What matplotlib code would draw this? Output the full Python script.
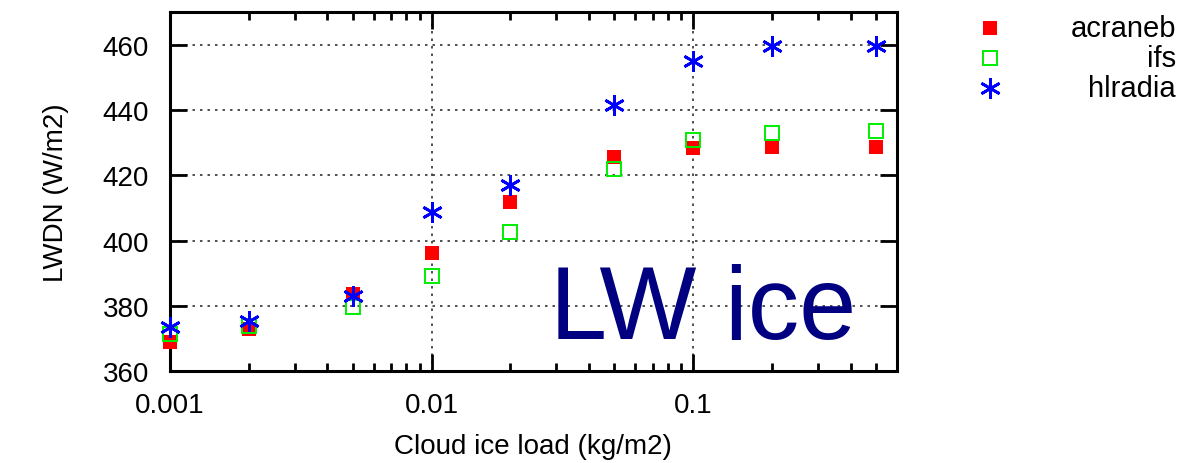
import matplotlib
matplotlib.use("Agg")
import matplotlib.pyplot as plt
from matplotlib.lines import Line2D
from matplotlib.ticker import LogLocator, NullFormatter, FixedLocator, FixedFormatter

plt.rcParams['font.family'] = ['Liberation Sans', 'DejaVu Sans']

# cloud ice load (kg/m2)
ice_load = [0.001, 0.002, 0.005, 0.01, 0.02, 0.05, 0.1, 0.2, 0.5]

# LWDN (W/m2) per scheme
acraneb = [368.9, 372.9, 383.6, 396.2, 411.7, 425.7, 428.3, 428.6, 428.8]
ifs = [371.3, 373.9, 379.5, 389.2, 402.5, 422.0, 430.9, 432.9, 433.7]
hlradia = [373.5, 375.4, 383.1, 408.7, 417.1, 441.4, 455.0, 459.6, 459.6]

series_names = ['acraneb', 'ifs', 'hlradia']
x_ticks = [0.001, 0.01, 0.1]
x_ticklabels = ['0.001', '0.01', '0.1']
y_ticks = [360, 380, 400, 420, 440, 460]

fig = plt.figure(figsize=(11.83, 4.64), dpi=100)
ax = fig.add_axes([0.1437, 0.198, 0.6143, 0.774])

style = [
    dict(marker='s', ms=10, mfc='#ff0000', mec='#ff0000', mew=0),
    dict(marker='s', ms=10, mfc='none', mec='#00ee00', mew=1.4),
    dict(marker=(6, 2, 0), ms=15, mfc='#0000ff', mec='#0000ff', mew=2.0),
]

for vals, st in zip([acraneb, ifs, hlradia], style):
    ax.plot(ice_load, vals, linestyle='none', clip_on=False, zorder=3, **st)

ax.set_xscale('log')
ax.set_xlim(0.001, 0.6)
ax.set_ylim(360, 470)
ax.xaxis.set_major_locator(FixedLocator(x_ticks))
ax.xaxis.set_major_formatter(FixedFormatter(x_ticklabels))
ax.xaxis.set_minor_locator(LogLocator(base=10, subs=range(2, 10)))
ax.xaxis.set_minor_formatter(NullFormatter())
ax.set_yticks(y_ticks)

ax.grid(True, which='major', linestyle=(0, (1.5, 3)), color='#333333', linewidth=1.2)
ax.tick_params(which='major', direction='in', length=12, width=2, top=True, right=True,
               labelsize=20)
ax.tick_params(axis='y', which='major', pad=15)
ax.tick_params(axis='x', which='major', pad=15)
ax.tick_params(which='minor', direction='in', length=6, width=2, top=True, right=True)
for sp in ax.spines.values():
    sp.set_linewidth(2.2)

ax.set_xlabel('Cloud ice load (kg/m2)', fontsize=20, labelpad=11)
ax.set_ylabel('LWDN (W/m2)', fontsize=20, labelpad=24)

ax.text(0.945, 0.165, 'LW ice', transform=ax.transAxes, fontsize=74, color='#000080',
        ha='right', va='center')

# legend on the right, labels right-aligned
leg_y = [0.938, 0.873, 0.808]
for name, st, yy in zip(series_names, style, leg_y):
    fig.add_artist(Line2D([0.837], [yy], transform=fig.transFigure, linestyle='none', **st))
    fig.text(0.994, yy, name, fontsize=21, ha='right', va='center')

fig.savefig('out.png', dpi=100)
